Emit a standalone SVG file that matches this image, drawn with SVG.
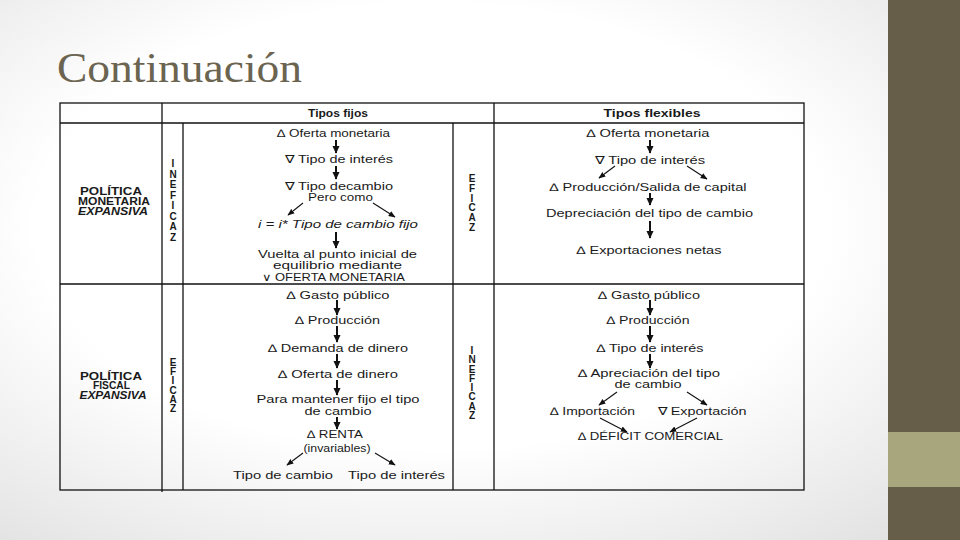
<svg xmlns="http://www.w3.org/2000/svg" width="960" height="540" viewBox="0 0 960 540">
<defs>
<radialGradient id="bg" cx="45%" cy="42%" r="75%">
<stop offset="0.55" stop-color="#ffffff"/>
<stop offset="1" stop-color="#e2e2e2"/>
</radialGradient>
<marker id="ah" viewBox="0 0 10 10" refX="9" refY="5" markerWidth="8" markerHeight="8" markerUnits="userSpaceOnUse" orient="auto">
<path d="M0,0.5 L10,5 L0,9.5 z" fill="#111"/>
</marker>
<marker id="ahs" viewBox="0 0 10 10" refX="9" refY="5" markerWidth="7" markerHeight="7" markerUnits="userSpaceOnUse" orient="auto">
<path d="M0,1 L10,5 L0,9 z" fill="#111"/>
</marker>
</defs>
<style>
.t{font-family:"Liberation Sans",Arial,sans-serif;font-size:11px;fill:#1a1a1a;text-anchor:middle}
.b{font-weight:bold}
.i{font-style:italic}
.lbl{font-family:"Liberation Sans",Arial,sans-serif;font-size:10px;font-weight:bold;fill:#1a1a1a;text-anchor:middle}
.vert{font-family:"Liberation Sans",Arial,sans-serif;font-size:10px;font-weight:bold;fill:#1a1a1a;text-anchor:middle;writing-mode:vertical-rl;text-orientation:upright}
.grid{stroke:#111;stroke-width:1.3;fill:none}
.v{stroke:#111;stroke-width:2;fill:none;marker-end:url(#ah)}
.d{stroke:#111;stroke-width:1.1;fill:none;marker-end:url(#ahs)}
</style>
<rect width="960" height="540" fill="url(#bg)"/>
<g id="sidebar">
<rect x="888" y="0" width="72" height="540" fill="#665e48"/>
<rect x="888" y="432" width="72" height="55" fill="#a8a67c"/>
</g>
<g id="title">
<text x="57" y="82" font-family="Liberation Serif, Times New Roman, serif" font-size="42" fill="#6b6450" textLength="245" lengthAdjust="spacingAndGlyphs">Continuación</text>
</g>
<g id="table">
<rect x="60" y="103" width="744" height="387" fill="#ffffff" class="grid"/>
<line class="grid" x1="60" y1="123" x2="804" y2="123"/>
<line class="grid" x1="60" y1="284" x2="804" y2="284"/>
<line class="grid" x1="162" y1="103" x2="162" y2="492"/>
<line class="grid" x1="183" y1="123" x2="183" y2="490"/>
<line class="grid" x1="453" y1="123" x2="453" y2="490"/>
<line class="grid" x1="494" y1="103" x2="494" y2="490"/>
</g>
<g id="headers">
<g id="h-fijos"><text class="t b" x="338" y="117" textLength="60" lengthAdjust="spacingAndGlyphs">Tipos fijos</text></g>
<g id="h-flex"><text class="t b" x="652" y="117" textLength="97" lengthAdjust="spacingAndGlyphs">Tipos flexibles</text></g>
</g>
<g id="row-labels">
<g id="lbl-monetaria">
<text class="lbl"><tspan x="111" y="194.5" textLength="62" lengthAdjust="spacingAndGlyphs">POLÍTICA</tspan><tspan x="114" y="205" textLength="72" lengthAdjust="spacingAndGlyphs">MONETARIA</tspan><tspan x="113" y="214.5" font-style="italic" textLength="70" lengthAdjust="spacingAndGlyphs">EXPANSIVA</tspan></text>
</g>
<g id="lbl-fiscal">
<text class="lbl"><tspan x="111" y="379.5" textLength="62" lengthAdjust="spacingAndGlyphs">POLÍTICA</tspan><tspan x="111.5" y="389" textLength="37" lengthAdjust="spacingAndGlyphs">FISCAL</tspan><tspan x="113" y="398.5" font-style="italic" textLength="67" lengthAdjust="spacingAndGlyphs">EXPANSIVA</tspan></text>
</g>
</g>
<g id="verdicts">
<g id="v-fijo-mon"><text class="vert" x="173" y="200.5" textLength="85" lengthAdjust="spacing">INEFICAZ</text></g>
<g id="v-flex-mon"><text class="vert" x="472" y="203" textLength="60" lengthAdjust="spacing">EFICAZ</text></g>
<g id="v-fijo-fis"><text class="vert" x="173" y="385.5" textLength="57" lengthAdjust="spacing">EFICAZ</text></g>
<g id="v-flex-fis"><text class="vert" x="472" y="383" textLength="76" lengthAdjust="spacing">INEFICAZ</text></g>
</g>
<g id="nodes-fijo-monetaria">
<g id="fm1"><text class="t" x="333.5" y="137" textLength="113" lengthAdjust="spacingAndGlyphs">∆ Oferta monetaria</text></g>
<g id="fm2"><text class="t" x="339" y="163" textLength="108" lengthAdjust="spacingAndGlyphs">∇ Tipo de interés</text></g>
<g id="fm3"><text class="t" x="339" y="189.5" textLength="108" lengthAdjust="spacingAndGlyphs">∇ Tipo decambio</text>
<text class="t" x="340.5" y="200.5" textLength="65" lengthAdjust="spacingAndGlyphs">Pero como</text></g>
<g id="fm4"><text class="t i" x="338" y="228" textLength="160" lengthAdjust="spacingAndGlyphs">i = i* Tipo de cambio fijo</text></g>
<g id="fm5"><text class="t" x="337.5" y="258" textLength="159" lengthAdjust="spacingAndGlyphs">Vuelta al punto inicial de</text>
<text class="t" x="337.5" y="268.5" textLength="129" lengthAdjust="spacingAndGlyphs">equilibrio mediante</text>
<text class="t" x="333.5" y="280.5" textLength="143" lengthAdjust="spacingAndGlyphs">∨ OFERTA MONETARIA</text></g>
</g>
<g id="nodes-flex-monetaria">
<g id="xm1"><text class="t" x="648" y="137" textLength="123" lengthAdjust="spacingAndGlyphs">∆ Oferta monetaria</text></g>
<g id="xm2"><text class="t" x="650" y="163.5" textLength="110" lengthAdjust="spacingAndGlyphs">∇ Tipo de interés</text></g>
<g id="xm3"><text class="t" x="648" y="191" textLength="197" lengthAdjust="spacingAndGlyphs">∆ Producción/Salida de capital</text></g>
<g id="xm4"><text class="t" x="649.5" y="217" textLength="207" lengthAdjust="spacingAndGlyphs">Depreciación del tipo de cambio</text></g>
<g id="xm5"><text class="t" x="649" y="253.5" textLength="145" lengthAdjust="spacingAndGlyphs">∆ Exportaciones netas</text></g>
</g>
<g id="nodes-fijo-fiscal">
<g id="ff1"><text class="t" x="338" y="298.5" textLength="103" lengthAdjust="spacingAndGlyphs">∆ Gasto público</text></g>
<g id="ff2"><text class="t" x="337.5" y="324" textLength="85" lengthAdjust="spacingAndGlyphs">∆ Producción</text></g>
<g id="ff3"><text class="t" x="338" y="351.5" textLength="140" lengthAdjust="spacingAndGlyphs">∆ Demanda de dinero</text></g>
<g id="ff4"><text class="t" x="338" y="377.5" textLength="120" lengthAdjust="spacingAndGlyphs">∆ Oferta de dinero</text></g>
<g id="ff5"><text class="t" x="338" y="403" textLength="163" lengthAdjust="spacingAndGlyphs">Para mantener fijo el tipo</text>
<text class="t" x="338" y="414.5" textLength="67" lengthAdjust="spacingAndGlyphs">de cambio</text></g>
<g id="ff6"><text class="t" x="335" y="437.5" textLength="56" lengthAdjust="spacingAndGlyphs">∆ RENTA</text>
<text class="t" x="337" y="451.5" textLength="67" lengthAdjust="spacingAndGlyphs">(invariables)</text></g>
<g id="ff7"><text class="t" x="283" y="478.5" textLength="100" lengthAdjust="spacingAndGlyphs">Tipo de cambio</text></g>
<g id="ff8"><text class="t" x="396.5" y="478.5" textLength="97" lengthAdjust="spacingAndGlyphs">Tipo de interés</text></g>
</g>
<g id="nodes-flex-fiscal">
<g id="xf1"><text class="t" x="649" y="298.5" textLength="102" lengthAdjust="spacingAndGlyphs">∆ Gasto público</text></g>
<g id="xf2"><text class="t" x="648" y="324" textLength="83" lengthAdjust="spacingAndGlyphs">∆ Producción</text></g>
<g id="xf3"><text class="t" x="650" y="351.5" textLength="107" lengthAdjust="spacingAndGlyphs">∆ Tipo de interés</text></g>
<g id="xf4"><text class="t" x="649" y="377" textLength="142" lengthAdjust="spacingAndGlyphs">∆ Apreciación del tipo</text>
<text class="t" x="648" y="387.5" textLength="67" lengthAdjust="spacingAndGlyphs">de cambio</text></g>
<g id="xf5"><text class="t" x="592.5" y="415" textLength="85" lengthAdjust="spacingAndGlyphs">∆ Importación</text></g>
<g id="xf6"><text class="t" x="702" y="415" textLength="89" lengthAdjust="spacingAndGlyphs">∇ Exportación</text></g>
<g id="xf7"><text class="t" x="650.5" y="440" textLength="145" lengthAdjust="spacingAndGlyphs">∆ DÉFICIT COMERCIAL</text></g>
</g>
<g id="connectors">
<line class="v" x1="336" y1="140" x2="336" y2="153"/>
<line class="v" x1="336" y1="166" x2="336" y2="179"/>
<line class="d" x1="303" y1="203" x2="288" y2="215"/>
<line class="d" x1="373" y1="203" x2="395" y2="217"/>
<line class="v" x1="336" y1="232" x2="336" y2="248"/>
<line class="v" x1="650" y1="140" x2="650" y2="153"/>
<line class="d" x1="615" y1="166" x2="599" y2="178"/>
<line class="d" x1="687" y1="166" x2="707" y2="179"/>
<line class="v" x1="650" y1="193" x2="650" y2="205"/>
<line class="v" x1="650" y1="221" x2="650" y2="238"/>
<line class="v" x1="337" y1="300" x2="337" y2="315"/>
<line class="v" x1="337" y1="326" x2="337" y2="342"/>
<line class="v" x1="337" y1="354" x2="337" y2="368"/>
<line class="v" x1="337" y1="380" x2="337" y2="395"/>
<line class="v" x1="337" y1="417" x2="337" y2="429"/>
<line class="d" x1="303" y1="453" x2="287" y2="465"/>
<line class="d" x1="375" y1="453" x2="395" y2="465"/>
<line class="v" x1="650" y1="300" x2="650" y2="315"/>
<line class="v" x1="650" y1="326" x2="650" y2="342"/>
<line class="v" x1="650" y1="354" x2="650" y2="368"/>
<line class="d" x1="617" y1="392" x2="599" y2="405"/>
<line class="d" x1="687" y1="392" x2="707" y2="405"/>
<line class="d" x1="600" y1="418" x2="627" y2="432"/>
<line class="d" x1="697" y1="418" x2="670" y2="432"/>
</g>
</svg>
